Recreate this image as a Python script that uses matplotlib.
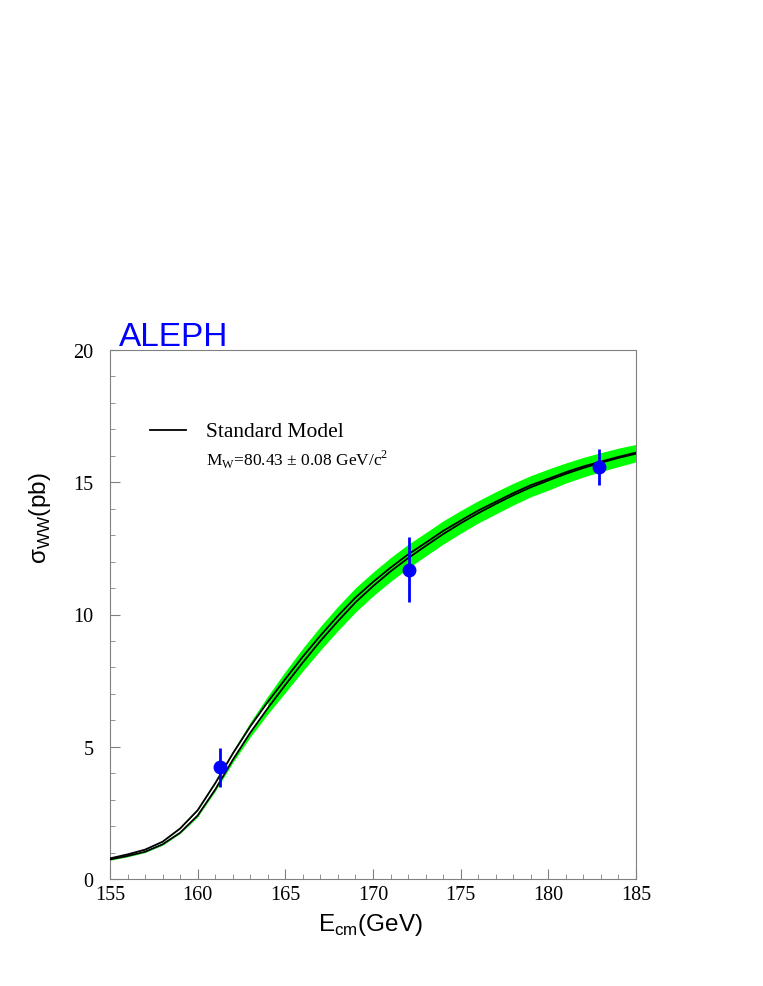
import numpy as np
import matplotlib.pyplot as plt
from matplotlib.ticker import MultipleLocator

# theory curve
energy = [155, 156, 157, 158, 159, 160, 161, 162, 163, 164, 165, 166, 167, 168, 169, 170,
          171, 172, 173, 174, 175, 176, 177, 178, 179, 180, 181, 182, 183, 184, 185]
sigma_sm = [0.76, 0.90, 1.07, 1.36, 1.83, 2.50, 3.50, 4.62, 5.65, 6.58, 7.45, 8.30, 9.10,
            9.85, 10.55, 11.15, 11.70, 12.20, 12.65, 13.10, 13.50, 13.88, 14.22, 14.55,
            14.85, 15.10, 15.35, 15.57, 15.76, 15.94, 16.10]
# half spread of the two black lines (M_W +- 0.08)
mw_spread = [0.02, 0.03, 0.04, 0.05, 0.08, 0.10, 0.12, 0.12, 0.12, 0.12, 0.11, 0.11, 0.10,
             0.10, 0.09, 0.08, 0.07, 0.07, 0.06, 0.06, 0.05, 0.05, 0.04, 0.04, 0.04, 0.03,
             0.03, 0.03, 0.02, 0.02, 0.02]
# half width of green band
band_half = [0.05, 0.06, 0.07, 0.08, 0.11, 0.15, 0.18, 0.22, 0.28, 0.34, 0.40, 0.43, 0.45,
             0.46, 0.46, 0.45, 0.45, 0.45, 0.44, 0.44, 0.43, 0.42, 0.42, 0.41, 0.40, 0.40,
             0.38, 0.37, 0.36, 0.35, 0.33]

# ALEPH measurements
data_e = [161.3, 172.05, 182.9]
data_sigma = [4.23, 11.70, 15.57]
data_err = [0.74, 1.23, 0.68]

plt.rcParams['mathtext.fontset'] = 'custom'
plt.rcParams['mathtext.rm'] = 'Liberation Serif'
plt.rcParams['mathtext.sf'] = 'Liberation Sans'

e = np.array(energy)
s = np.array(sigma_sm)
d = np.array(mw_spread)
b = np.array(band_half)

fig = plt.figure(figsize=(7.63, 9.87), dpi=100)
ax = fig.add_axes([110/763, 1-880/987, 526/763, 529/987])

ax.fill_between(e, s - b, s + b, color='#00ff00', lw=0, zorder=1)
ax.fill_between(e, s - d, s + d, where=e <= 164, color='white', lw=0, zorder=2)
ax.plot(e, s + d, color='black', lw=1.3, zorder=3)
ax.plot(e, s - d, color='black', lw=1.3, zorder=3)

ax.errorbar(data_e, data_sigma, yerr=data_err, fmt='o', color='#0000ff', ms=9,
            elinewidth=2, capsize=0, zorder=5)

ax.set_xlim(155, 185)
ax.set_ylim(0, 20)
ax.xaxis.set_major_locator(MultipleLocator(5))
ax.xaxis.set_minor_locator(MultipleLocator(1))
ax.yaxis.set_major_locator(MultipleLocator(5))
ax.yaxis.set_minor_locator(MultipleLocator(1))
ax.tick_params(which='both', direction='in', color='#808080', top=False, right=False)
ax.tick_params(which='major', length=7, labelsize=14.5)
ax.tick_params(axis='x', which='major', pad=4)
ax.tick_params(axis='y', which='major', pad=12)
ax.tick_params(which='minor', length=3.5)
for lab in ax.get_xticklabels() + ax.get_yticklabels():
    lab.set_family('Liberation Serif')
for sp in ax.spines.values():
    sp.set_color('#808080')

# legend
ax.plot([0.076, 0.1445], [0.849, 0.849], color='black', lw=1.3, transform=ax.transAxes)
ax.text(0.1825, 0.8374, 'Standard Model', transform=ax.transAxes, va='baseline',
        family='Liberation Serif', fontsize=15.5)
ax.text(0.1825, 0.7826, r'M$_{\rm W}$=80.43 $\pm$ 0.08 GeV/c$^2$', transform=ax.transAxes,
        va='baseline', family='Liberation Serif', fontsize=12.5)

fig.text(119/763, 1-346/987, 'ALEPH', color='#0000ff', family='Liberation Sans',
         fontsize=24, va='baseline')
fig.text(370/763, 1-925/987, r'E$_{\mathsf{cm}}$(GeV)', family='Liberation Sans', fontsize=17.5,
         ha='center', va='center')
fig.text(40/763, 1-518/987, r'σ$_{\mathsf{WW}}$(pb)', family='Liberation Sans', fontsize=17.5,
         ha='center', va='center', rotation=90)

fig.savefig('out.png', dpi=100)
